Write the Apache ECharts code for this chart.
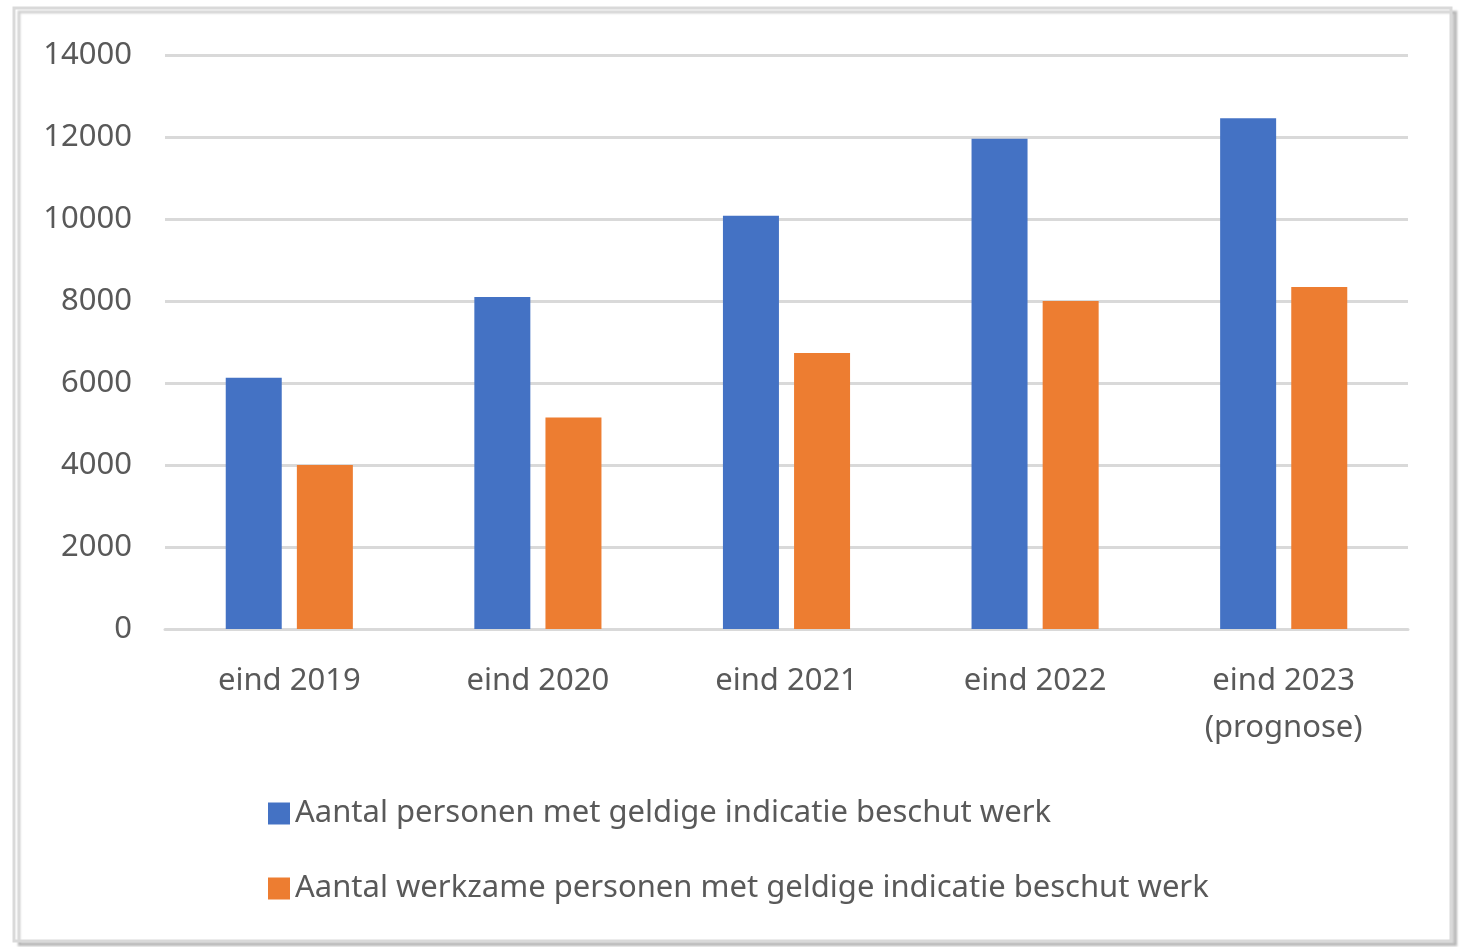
<!DOCTYPE html>
<html>
<head>
<meta charset="utf-8">
<script src="https://cdn.jsdelivr.net/npm/echarts@6/dist/echarts.min.js"></script>
<style>
  html, body { margin: 0; padding: 0; background: #fff; }
  #canvas { width: 1460px; height: 947px; }
</style>
</head>
<body>
<div id="canvas"></div>
<script>
var categories = ['eind 2019', 'eind 2020', 'eind 2021', 'eind 2022', 'eind 2023\n(prognose)'];
var seriesNames = [
    'Aantal personen met geldige indicatie beschut werk',
    'Aantal werkzame personen met geldige indicatie beschut werk'
];
var geldig = [6130, 8100, 10080, 11960, 12460];
var werkzaam = [4000, 5160, 6730, 8000, 8340];
var yTicks = [0, 2000, 4000, 6000, 8000, 10000, 12000, 14000];

var font = 'Noto Sans';
var textColor = '#595959';
var gridColor = '#d9d9d9';

var myChart = echarts.init(document.getElementById('canvas'));
var option = {
    animation: false,
    backgroundColor: '#fff',
    graphic: [{
        type: 'rect',
        z: -10,
        shape: {x: 14, y: 8, width: 1437, height: 933},
        style: {
            fill: '#fff',
            stroke: gridColor,
            lineWidth: 3,
            shadowColor: 'rgba(0, 0, 0, 0.18)',
            shadowOffsetX: 5,
            shadowOffsetY: 4,
            shadowBlur: 2
        }
    }],
    grid: {left: 165, right: 52, top: 55, bottom: 318},
    legend: {
        orient: 'vertical',
        left: 268,
        top: 798,
        padding: 0,
        itemWidth: 22,
        itemHeight: 22,
        itemGap: 44,
        icon: 'rect',
        data: seriesNames,
        textStyle: {fontFamily: font, fontSize: 31, color: textColor}
    },
    xAxis: {
        type: 'category',
        data: categories,
        axisLine: {lineStyle: {color: gridColor, width: 3}},
        axisTick: {show: false},
        axisLabel: {
            fontFamily: font, fontSize: 31, color: textColor,
            margin: 29, lineHeight: 47
        }
    },
    yAxis: {
        type: 'value',
        min: yTicks[0],
        max: yTicks[yTicks.length - 1],
        interval: 2000,
        axisLine: {show: false},
        axisTick: {show: false},
        splitLine: {lineStyle: {color: gridColor, width: 3}},
        axisLabel: {
            fontFamily: font, fontSize: 31, color: textColor, margin: 33,
            formatter: function (v) { return String(v); }
        }
    },
    series: [
        {
            name: seriesNames[0],
            type: 'bar',
            data: geldig,
            barWidth: 56,
            barGap: '27%',
            itemStyle: {color: '#4472c4'}
        },
        {
            name: seriesNames[1],
            type: 'bar',
            data: werkzaam,
            barWidth: 56,
            barGap: '27%',
            itemStyle: {color: '#ed7d31'}
        }
    ]
};
myChart.setOption(option);
</script>
</body>
</html>
